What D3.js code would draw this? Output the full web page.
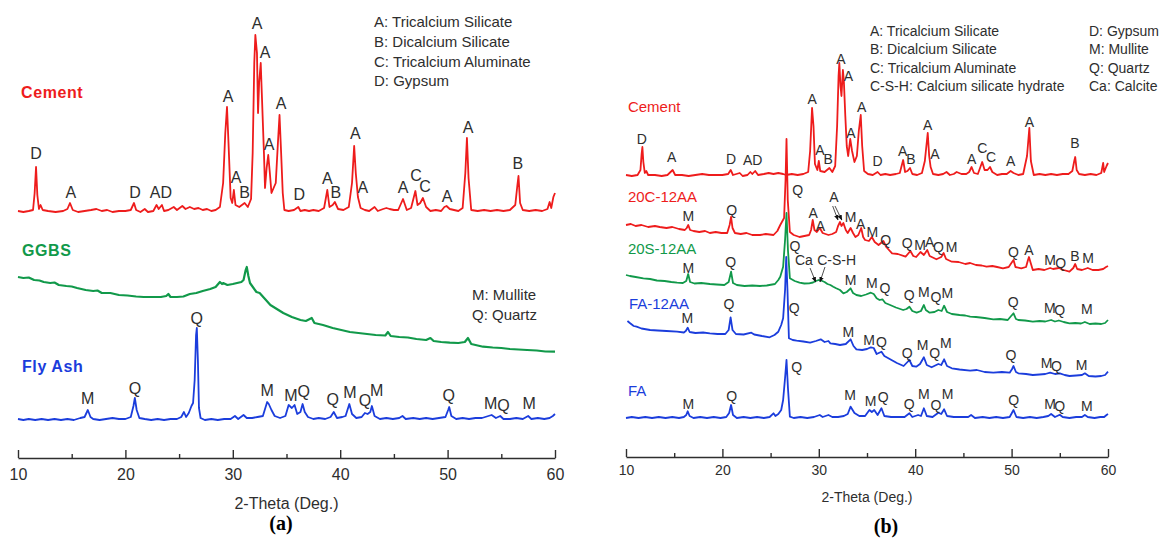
<!DOCTYPE html>
<html lang="en">
<head>
<meta charset="utf-8">
<title>XRD patterns</title>
<script src="https://cdn.jsdelivr.net/npm/d3@7"></script>
<style>
body { margin: 0; background: #fff; }
text { font-family: "Liberation Sans", Arial, sans-serif; }
</style>
</head>
<body>
<div id="chart"></div>
<script>
var W = 1169, H = 538;

// each trace: [2-theta, intensity above its own baseline] (a.u.)
var cementA = [[10.0,2],[10.5,1],[11.0,2],[11.4,3],[11.55,20],[11.68,46],[11.8,18],[11.95,4],[12.1,8],[12.3,3],[12.8,2],[13.5,1],[14.2,2],[14.6,4],[14.84,10],[15.1,3],[15.6,1],[16.2,2],[16.8,3],[17.3,4],[17.8,2],[18.3,3],[18.8,1],[19.4,2],[20.0,2],[20.5,3],[20.8,10],[21.0,3],[21.4,1],[21.8,4],[22.1,1],[22.6,2],[22.9,8],[23.1,4],[23.4,8],[23.6,2],[24.0,3],[24.5,6],[24.8,3],[25.3,7],[25.6,4],[26.0,6],[26.4,4],[26.8,5],[27.2,3],[27.6,4],[28.0,2],[28.4,3],[28.8,6],[29.1,30],[29.3,80],[29.46,106],[29.6,70],[29.8,15],[29.95,10],[30.1,23],[30.25,8],[30.6,6],[31.1,10],[31.4,6],[31.7,14],[31.85,60],[32.0,150],[32.1,178],[32.25,160],[32.35,100],[32.45,130],[32.6,150],[32.7,120],[32.8,90],[32.9,60],[33.0,25],[33.15,45],[33.3,58],[33.45,40],[33.6,20],[33.8,25],[34.0,30],[34.2,70],[34.35,98],[34.5,60],[34.65,20],[34.8,3],[35.2,2],[35.7,3],[36.1,6],[36.3,2],[36.7,3],[37.1,2],[37.5,3],[38.0,2],[38.5,5],[38.8,23],[39.0,6],[39.3,8],[39.5,11],[39.8,4],[40.3,3],[40.8,6],[41.1,30],[41.3,67],[41.45,40],[41.65,16],[41.9,5],[42.3,3],[42.7,2],[43.2,6],[43.5,2],[44.0,4],[44.3,5],[44.6,4],[45.0,3],[45.4,3],[45.85,14],[46.2,3],[46.6,5],[47.0,22],[47.2,8],[47.45,10],[47.7,15],[48.0,6],[48.4,2],[48.9,3],[49.4,2],[49.7,6],[49.9,7],[50.2,4],[50.6,3],[51.0,2],[51.4,5],[51.65,40],[51.8,75],[51.95,35],[52.2,3],[52.8,2],[53.4,3],[54.0,2],[54.6,3],[55.2,2],[55.8,3],[56.3,8],[56.5,28],[56.6,37],[56.75,10],[57.0,3],[57.6,2],[58.2,3],[58.8,2],[59.3,4],[59.5,11],[59.65,5],[59.85,16],[60.0,20]];

var ggbsA = [[10.0,75],[10.5,74],[11.0,74.5],[11.5,72],[12.0,71.5],[12.4,70],[13.0,69],[13.4,69.5],[13.8,67],[14.5,66],[15.0,65.5],[15.5,64],[16.3,62],[17.0,61],[17.4,61.5],[17.8,59],[18.6,59],[19.4,57],[20.2,56.5],[21.0,55.5],[21.7,55],[22.5,55],[23.3,55],[23.8,56],[24.0,58],[24.2,55],[24.8,55],[25.4,55.5],[26.0,58],[26.6,59],[27.2,61],[27.9,63],[28.4,65],[28.8,70],[29.0,68],[29.1,69],[29.5,67],[30.0,68],[30.4,69],[30.8,70],[31.0,72],[31.2,82],[31.3,85],[31.45,76],[31.6,69],[32.2,60],[32.5,59],[33.0,53],[33.5,47],[34.1,43],[34.7,39],[35.5,35],[36.3,32],[36.8,31],[37.35,34],[37.6,29],[38.4,27],[39.3,24],[40.1,22],[40.9,20],[41.7,19],[42.5,18],[43.3,17],[44.2,16.5],[44.45,20],[44.7,16],[45.5,15],[46.3,14.5],[47.1,13],[48.0,12],[48.4,14],[48.7,11],[49.4,10],[50.2,9.3],[51.0,9],[51.6,10],[51.9,14],[52.2,8],[53.3,5.3],[54.2,4.5],[55.0,4],[55.8,3],[56.6,2.5],[57.4,2],[58.3,1.5],[59.1,0.5],[60.0,0.3]];

var flyAshA = [[10.0,1],[10.5,0],[11.0,1],[11.6,0],[12.2,1],[12.8,0],[13.4,1],[14.0,0],[14.6,1],[15.2,0],[15.8,2],[16.2,3],[16.5,10],[16.75,3],[17.0,1],[17.6,0],[18.2,1],[18.8,2],[19.4,1],[20.0,1],[20.5,3],[20.75,14],[20.88,22],[21.05,10],[21.3,2],[21.8,1],[22.4,0],[23.0,1],[23.6,0],[24.2,1],[24.8,1],[25.2,3],[25.45,8],[25.65,3],[25.9,7],[26.15,14],[26.3,17],[26.45,40],[26.58,85],[26.65,92],[26.75,60],[26.85,12],[27.0,2],[27.4,0],[28.0,1],[28.6,0],[29.2,1],[29.8,1],[30.2,4],[30.5,1],[31.0,5],[31.3,2],[31.8,2],[32.3,3],[32.8,4],[33.2,18],[33.35,16],[33.6,10],[33.9,4],[34.4,2],[34.9,4],[35.2,15],[35.5,12],[35.75,15],[36.0,6],[36.3,8],[36.5,16],[36.7,8],[37.0,3],[37.5,1],[38.0,2],[38.6,1],[39.1,3],[39.4,8],[39.7,2],[40.2,3],[40.5,4],[40.85,16],[41.1,6],[41.5,2],[42.0,3],[42.3,7],[42.55,6],[42.8,8],[42.95,14],[43.2,4],[43.7,1],[44.3,2],[44.9,1],[45.5,2],[45.8,4],[46.1,1],[46.8,2],[47.4,1],[48.0,2],[48.6,1],[49.2,2],[49.8,3],[50.05,10],[50.15,13],[50.35,4],[50.8,1],[51.4,2],[52.0,1],[52.6,2],[53.2,2],[53.8,4],[54.1,5],[54.5,2],[54.9,4],[55.2,1],[55.8,1],[56.4,2],[57.0,1],[57.5,4],[57.8,1],[58.4,2],[59.0,1],[59.5,2],[59.8,4],[60.0,6]];

var cementB = [[10.0,1],[10.6,0],[11.2,1],[11.5,6],[11.62,22],[11.7,29],[11.8,14],[11.95,3],[12.1,5],[12.3,1],[13.0,1],[13.7,0],[14.3,1],[14.84,6],[15.1,1],[15.8,1],[16.5,0],[17.2,1],[17.9,2],[18.6,1],[19.3,1],[20.0,1],[20.6,2],[20.86,6],[21.1,1],[21.8,3],[22.1,0],[22.6,1],[22.9,4],[23.1,2],[23.4,5],[23.7,1],[24.3,2],[24.8,3],[25.3,2],[25.8,3],[26.3,2],[26.6,1],[27.2,2],[27.8,1],[28.4,2],[28.9,4],[29.1,25],[29.3,68],[29.45,50],[29.6,12],[29.85,6],[30.0,15],[30.15,5],[30.6,4],[31.1,8],[31.4,4],[31.7,10],[31.9,50],[32.05,100],[32.13,113],[32.25,90],[32.35,80],[32.5,106],[32.6,95],[32.75,60],[32.9,30],[33.05,20],[33.26,37],[33.45,25],[33.7,14],[33.95,20],[34.15,45],[34.35,61],[34.5,30],[34.7,5],[35.1,2],[35.6,1],[36.1,4],[36.4,1],[36.9,2],[37.4,1],[38.0,2],[38.4,3],[38.75,16],[38.95,4],[39.2,5],[39.46,8],[39.7,2],[40.2,1],[40.7,3],[41.0,15],[41.3,43],[41.45,20],[41.6,9],[41.85,2],[42.4,1],[42.9,2],[43.25,4],[43.6,1],[44.0,2],[44.3,4],[44.8,2],[45.3,2],[45.6,4],[45.85,9],[46.1,3],[46.5,2],[46.95,14],[47.2,6],[47.5,6],[47.76,9],[48.0,4],[48.5,1],[49.0,2],[49.5,2],[49.9,5],[50.2,3],[50.7,1],[51.2,2],[51.6,20],[51.84,48],[52.0,15],[52.3,1],[52.9,2],[53.5,1],[54.1,2],[54.7,1],[55.3,2],[55.9,2],[56.3,5],[56.5,15],[56.6,19],[56.75,6],[57.0,2],[57.6,1],[58.2,2],[58.8,1],[59.3,3],[59.5,13],[59.6,4],[59.85,10],[60.0,13]];

var c20B = [[10.0,47],[10.5,48],[11.0,46],[11.6,47],[12.3,45],[13.0,46],[13.5,45],[14.2,44],[14.8,45],[15.5,43],[16.1,42],[16.3,44],[16.46,47],[16.65,42],[17.0,41],[17.6,40],[18.2,41],[18.7,39],[19.3,40],[19.9,39],[20.5,39],[20.75,47],[20.9,55],[21.05,44],[21.3,39],[21.9,38],[22.5,39],[23.1,37],[23.9,37],[24.5,38],[25.3,37],[25.7,41],[26.0,47],[26.4,54],[26.55,92],[26.65,133],[26.78,72],[27.0,40],[27.4,37],[28.0,35],[28.5,36],[29.0,37],[29.2,42],[29.37,52],[29.55,42],[29.8,40],[30.1,44],[30.4,39],[31.0,37],[31.4,38],[31.8,40],[32.0,46],[32.2,50],[32.35,46],[32.55,49],[32.8,42],[33.0,39],[33.3,44],[33.55,39],[33.8,35],[34.1,37],[34.4,44],[34.6,35],[34.8,32],[35.2,31],[35.5,35],[35.8,30],[36.2,27],[36.7,31],[37.0,25],[37.6,18.7],[38.2,18],[39.0,15.3],[39.5,21],[39.8,16],[40.1,15],[40.55,20],[40.9,17],[41.25,22],[41.5,16],[42.2,12.7],[42.7,15],[42.95,19],[43.2,13],[43.8,10.3],[44.5,10],[45.2,8],[45.7,9],[46.3,7],[46.9,6.5],[47.4,5.3],[48.0,6],[48.5,5],[49.1,3.7],[49.7,5],[50.05,10],[50.2,12],[50.4,5],[51.0,3.7],[51.5,5],[51.7,12],[51.8,15],[51.95,10],[52.2,2],[52.8,3],[53.4,2],[54.0,4],[54.3,3],[54.9,4],[55.4,2],[56.0,0.3],[56.4,4],[56.6,8],[56.8,3],[57.3,2],[57.9,4],[58.4,2],[59.0,2],[59.5,3],[59.8,5],[60.0,6]];

var s20B = [[10.0,50],[10.4,49],[11.0,48],[11.8,46.7],[12.5,46],[13.2,44.5],[14.0,44],[14.7,43],[15.3,42.3],[15.9,42],[16.25,44],[16.45,51],[16.65,43],[17.1,41.5],[17.8,42],[18.7,41],[19.4,40.5],[20.2,40],[20.65,43],[20.9,53.3],[21.1,42],[21.5,40],[22.3,39],[23.1,39.5],[23.9,39],[24.6,39.5],[25.45,41],[25.8,45],[26.0,48.3],[26.3,58.3],[26.5,85],[26.65,112],[26.8,75],[27.0,46.7],[27.5,44],[28.0,42.3],[28.5,41.5],[29.0,41.7],[29.4,42.5],[29.7,44],[30.0,45],[30.3,44.3],[30.6,43],[30.9,41],[31.2,40],[31.5,38.3],[31.8,36.7],[32.2,35],[32.55,31.7],[32.9,33],[33.3,36.7],[33.55,32],[33.9,30],[34.4,29],[34.9,30.5],[35.4,32.3],[35.7,31],[36.0,26.7],[36.3,25],[36.6,25.7],[36.9,22],[37.4,20],[38.0,17.5],[38.75,15],[39.1,16],[39.4,18.3],[39.7,14],[40.15,12.3],[40.6,14],[40.9,20],[41.1,15],[41.5,12.3],[42.0,13],[42.4,15],[42.75,14],[43.0,19.3],[43.3,13],[43.8,11],[44.6,10],[45.2,9.5],[45.7,8.3],[46.3,8],[47.2,7],[48.1,5.7],[48.8,6],[49.6,5],[49.95,9],[50.2,11.7],[50.45,6],[50.7,5],[51.4,4.5],[52.2,3.3],[52.9,4],[53.5,3.5],[54.1,5],[54.5,3.5],[54.9,4.5],[55.4,3],[56.0,1.7],[56.6,2],[57.2,1.5],[57.6,3],[58.1,1],[58.7,1.5],[59.3,1],[59.7,2],[60.0,5]];

var fa12B = [[10.15,57],[10.4,55],[10.8,52],[11.1,51.3],[11.6,49.5],[12.5,48],[13.3,47.5],[14.2,47],[15.3,46.3],[16.0,45.5],[16.2,47],[16.4,50.3],[16.6,46],[17.2,45],[18.0,45.5],[18.7,44.7],[19.5,44],[20.3,44],[20.65,48],[20.85,60.7],[21.05,48],[21.4,44],[22.2,43.5],[23.0,45.3],[23.3,43.5],[24.1,42],[24.9,40.7],[25.4,43],[25.8,46.3],[26.1,53],[26.3,59.7],[26.5,88],[26.62,121],[26.75,88],[26.9,39.7],[27.3,38],[27.7,37.3],[28.4,36.5],[29.1,35.3],[29.7,37],[30.2,38.7],[30.6,36],[31.0,37],[31.2,34.7],[31.7,34],[32.2,33],[32.8,34],[33.3,38.7],[33.6,32],[33.9,28.7],[34.5,28],[35.0,29],[35.4,30.7],[35.7,30],[36.0,24],[36.5,26.3],[36.8,22],[37.4,18.7],[38.1,15],[38.8,12],[39.4,18],[39.7,12],[40.1,11.3],[40.5,14],[40.9,20.7],[41.2,13],[41.7,10.7],[42.4,14],[42.7,13],[43.0,18.7],[43.3,12],[43.8,9.7],[44.6,8.5],[45.7,7.3],[46.4,8],[47.2,6],[48.1,5.3],[49.0,6],[49.8,5.3],[50.05,9],[50.2,12],[50.45,6],[50.7,4.7],[51.5,4],[52.2,3],[52.9,3.5],[53.5,4],[54.0,5.3],[54.5,4],[55.0,4.7],[55.5,3],[56.0,2],[56.7,2.5],[57.3,3],[57.6,4.7],[58.0,2],[58.7,1.5],[59.3,2],[59.7,3],[60.0,6.3]];

var faB = [[10.0,0],[10.6,1],[11.3,0],[12.0,1],[12.7,0],[13.4,1],[14.1,0],[14.8,1],[15.5,0],[16.0,1],[16.25,3],[16.4,6.7],[16.6,2],[17.0,0],[17.7,1],[18.4,0],[19.1,1],[19.8,0],[20.4,1],[20.7,5],[20.9,13],[21.1,3],[21.5,0],[22.2,1],[22.9,0],[23.6,1],[24.3,0],[24.9,1],[25.3,4.7],[25.5,2],[25.8,4],[26.1,8],[26.3,18],[26.5,40],[26.65,58],[26.8,30],[27.0,1.3],[27.4,0],[28.1,1],[28.8,0],[29.5,1],[30.1,3],[30.4,1],[31.0,3],[31.4,1],[32.0,1],[32.6,2],[33.0,4],[33.3,11.3],[33.7,5],[34.2,2],[34.8,2],[35.25,8],[35.5,6],[35.75,8],[36.1,3],[36.5,9.7],[36.8,2],[37.5,1],[38.2,1],[38.9,1],[39.4,4.7],[39.7,1],[40.3,3],[40.6,2],[40.9,9.7],[41.2,2],[41.8,1],[42.4,5.3],[42.7,4],[43.0,8.7],[43.3,2],[44.0,1],[44.8,1],[45.5,1],[45.8,3],[46.2,0],[47.0,1],[47.7,0],[48.4,1],[49.1,0],[49.8,1],[50.2,8],[50.5,1],[51.2,0],[51.9,1],[52.6,0],[53.3,1],[53.8,2],[54.1,4],[54.5,1],[55.0,3.3],[55.3,1],[56.0,0],[56.7,1],[57.3,1],[57.6,3],[57.9,1],[58.6,0],[59.2,1],[59.6,1],[59.85,3],[60.0,4]];

// peak letters: [text, 2-theta, intensity above the trace baseline]
var cementALabels = [["D",11.68,60],["A",14.93,21],["D",20.9,21],["AD",23.3,21],["A",29.55,117],["A",30.3,36],["B",31.1,21],["A",32.25,190],["A",33.0,161],["A",33.37,69],["A",34.5,110],["D",36.2,19],["A",38.8,35],["B",39.6,21],["A",41.4,80],["A",42.1,26],["A",45.85,26],["C",47.06,38],["C",47.9,27],["A",49.95,17],["A",51.9,86],["B",56.55,50]];
var flyAshALabels = [["M",16.49,22],["Q",20.9,32],["Q",26.64,102],["M",33.2,30],["M",35.4,25],["Q",36.6,29],["Q",39.3,21],["M",40.9,28],["Q",42.3,20],["M",43.4,30],["Q",50.1,25],["M",54.0,17],["Q",55.2,15],["M",57.6,17]];

var cementBLabels = [["D",11.63,37],["A",14.74,19],["D",20.9,17],["AD",23.14,16],["A",29.3,77],["A",30.12,26],["B",30.98,17],["A",32.3,117],["A",33.08,100],["A",33.34,43],["A",34.45,69],["D",36.1,15],["A",38.7,25],["B",39.56,17],["A",41.3,51],["A",42.05,22],["A",45.86,17],["C",46.96,28],["C",47.86,19],["A",49.9,15],["A",51.84,54],["B",56.58,33]];
var c20BLabels = [["M",16.46,56],["Q",20.96,62],["Q",27.8,82],["A",29.42,59],["A",30.18,46],["A",31.58,75],["M",33.31,55],["A",34.35,48],["M",35.55,40],["Q",36.94,32],["Q",39.18,29],["M",40.5,27],["A",41.5,30],["Q",42.4,25],["M",43.77,25],["Q",50.2,20],["A",51.8,22],["M",53.98,12],["Q",55.1,9],["B",56.58,16],["M",57.93,14]];
var s20BLabels = [["M",16.46,57],["Q",20.86,63],["Q",27.53,79],["Ca",28.45,65],["C-S-H",31.85,65],["M",33.31,45],["M",35.49,42],["Q",36.87,37],["Q",39.39,30],["M",40.9,33],["Q",42.15,28],["M",43.33,32],["Q",50.16,23],["M",53.96,17],["Q",55.0,15],["M",57.8,16]];
var fa12BLabels = [["M",16.36,60],["Q",20.68,74],["Q",27.46,70],["M",33.06,46],["M",35.21,38],["Q",36.5,36],["Q",39.16,25],["M",40.76,33],["Q",42.03,25],["M",43.17,35],["Q",49.92,23],["M",53.62,15],["Q",54.66,12],["M",57.26,13]];
var faBLabels = [["M",16.46,14],["Q",20.96,22],["Q",27.7,51],["M",33.24,23],["M",35.38,17],["Q",36.67,21],["Q",39.37,14],["M",40.89,24],["Q",42.14,13],["M",43.35,24],["Q",50.23,18],["M",53.98,14],["Q",55.0,12],["M",57.8,12]];

// arrows: [from 2-theta, from intensity, to 2-theta, to intensity]
var c20BArrows = [[31.44,66,31.99,52],[31.68,66,32.39,52]];
var s20BArrows = [[29.09,57,29.68,43],[30.64,58,30.12,43]];

var legendA1 = ["A: Tricalcium Silicate","B: Dicalcium Silicate","C: Tricalcium Aluminate","D: Gypsum"];
var legendA2 = ["M: Mullite","Q: Quartz"];
var legendB1 = ["A: Tricalcium Silicate","B: Dicalcium Silicate","C: Tricalcium Aluminate","C-S-H: Calcium silicate hydrate"];
var legendB2 = ["D: Gypsum","M: Mullite","Q: Quartz","Ca: Calcite"];

var majorTicks = [10,20,30,40,50,60];
var minorTicks = [15,25,35,45,55];

var red = "#ee1c1c", green = "#11994a", blue = "#1b3ddc", ink = "#2e2e2e";

var svg = d3.select("#chart").append("svg")
	.attr("width", W)
	.attr("height", H);

svg.append("defs").append("marker")
	.attr("id", "head")
	.attr("viewBox", "0 0 10 10")
	.attr("refX", 9).attr("refY", 5)
	.attr("markerWidth", 7).attr("markerHeight", 7)
	.attr("orient", "auto")
	.append("path")
	.attr("d", "M0,1L10,5L0,9Z")
	.attr("fill", "#111");

function drawPanel(p) {
	var g = svg.append("g");
	var x = d3.scaleLinear().domain([10, 60]).range([p.x0, p.x1]);
	var y = d3.scaleLinear().domain([0, p.axisY]).range([p.axisY, 0]);

	// axis: long ticks every 10, short every 5, both pointing up
	g.append("g")
		.attr("transform", "translate(0," + p.axisY + ")")
		.call(d3.axisBottom(x).tickValues(majorTicks).tickFormat(d3.format("d"))
			.tickSizeInner(-8).tickSizeOuter(0).tickPadding(p.tickPad))
		.call(function(a) {
			a.select(".domain").attr("stroke", ink).attr("stroke-width", 1.4);
			a.selectAll(".tick line").attr("stroke", ink).attr("stroke-width", 1.4);
			a.selectAll(".tick text").attr("fill", ink)
				.style("font-size", p.tickFont + "px")
				.style("font-family", "'Liberation Sans', Arial, sans-serif");
		});
	g.append("g")
		.attr("transform", "translate(0," + p.axisY + ")")
		.call(d3.axisBottom(x).tickValues(minorTicks).tickFormat("")
			.tickSizeInner(-4).tickSizeOuter(0))
		.call(function(a) {
			a.select(".domain").remove();
			a.selectAll(".tick line").attr("stroke", ink).attr("stroke-width", 1.4);
		});

	g.append("text")
		.attr("x", (p.x0 + p.x1) / 2)
		.attr("y", p.titleY)
		.attr("text-anchor", "middle")
		.attr("dy", "0.35em")
		.attr("fill", ink)
		.style("font-size", p.tickFont + "px")
		.text("2-Theta (Deg.)");

	g.append("text")
		.attr("x", p.tagX)
		.attr("y", p.tagY)
		.attr("text-anchor", "middle")
		.attr("dy", "0.35em")
		.style("font-family", "'Liberation Serif', 'Times New Roman', serif")
		.style("font-weight", "bold")
		.style("font-size", "20px")
		.text(p.tag);

	p.traces.forEach(function(t) {
		var line = d3.line()
			.x(function(d) { return x(d[0]); })
			.y(function(d) { return y(d[1] + t.offset); });

		g.append("path")
			.datum(t.data)
			.attr("d", line)
			.attr("fill", "none")
			.attr("stroke", t.color)
			.attr("stroke-width", t.width || 1.8)
			.attr("stroke-linejoin", "round");

		g.selectAll(null)
			.data(t.labels || [])
			.enter()
			.append("text")
			.attr("x", function(d) { return x(d[1]); })
			.attr("y", function(d) { return y(d[2] + t.offset); })
			.attr("text-anchor", "middle")
			.attr("dy", "0.35em")
			.attr("fill", ink)
			.style("font-size", p.peakFont + "px")
			.text(function(d) { return d[0]; });

		g.selectAll(null)
			.data(t.arrows || [])
			.enter()
			.append("line")
			.attr("x1", function(d) { return x(d[0]); })
			.attr("y1", function(d) { return y(d[1] + t.offset); })
			.attr("x2", function(d) { return x(d[2]); })
			.attr("y2", function(d) { return y(d[3] + t.offset); })
			.attr("stroke", "#222")
			.attr("stroke-width", 0.8)
			.attr("marker-end", "url(#head)");

		g.append("text")
			.attr("x", x(t.name[1]))
			.attr("y", y(t.name[2] + t.offset))
			.attr("dy", "0.35em")
			.attr("fill", t.color)
			.style("font-size", p.nameFont + "px")
			.style("font-weight", p.nameWeight)
			.style("letter-spacing", p.nameSpacing + "px")
			.text(t.name[0]);
	});

	p.legends.forEach(function(l) {
		g.selectAll(null)
			.data(l.items)
			.enter()
			.append("text")
			.attr("x", l.x)
			.attr("y", function(d, i) { return l.y + i * l.step; })
			.attr("dy", "0.35em")
			.attr("fill", ink)
			.style("font-size", l.size + "px")
			.text(function(d) { return d; });
	});
}

drawPanel({
	x0: 18, x1: 555, axisY: 458, tickPad: 11, tickFont: 16, titleY: 503,
	tag: "(a)", tagX: 281, tagY: 523, peakFont: 16,
	nameFont: 16, nameWeight: "bold", nameSpacing: 0.6,
	traces: [
		{data: cementA, offset: 245, color: red, labels: cementALabels, name: ["Cement", 10.28, 121]},
		{data: ggbsA, offset: 106, color: green, width: 2.2, name: ["GGBS", 10.37, 102]},
		{data: flyAshA, offset: 38, color: blue, labels: flyAshALabels, name: ["Fly Ash", 10.37, 54]}
	],
	legends: [
		{items: legendA1, x: 374, y: 22, step: 19.7, size: 15},
		{items: legendA2, x: 472, y: 295, step: 20, size: 15}
	]
});

drawPanel({
	x0: 626, x1: 1108, axisY: 457, tickPad: 8, tickFont: 14, titleY: 497,
	tag: "(b)", tagX: 886, tagY: 526, peakFont: 14,
	nameFont: 15, nameWeight: "normal", nameSpacing: 0,
	traces: [
		{data: cementB, offset: 281, color: red, labels: cementBLabels, name: ["Cement", 10.2, 69]},
		{data: c20B, offset: 185, color: red, labels: c20BLabels, arrows: c20BArrows, name: ["20C-12AA", 10.2, 75]},
		{data: s20B, offset: 132, color: green, labels: s20BLabels, arrows: s20BArrows, name: ["20S-12AA", 10.2, 76]},
		{data: fa12B, offset: 79, color: blue, labels: fa12BLabels, name: ["FA-12AA", 10.3, 74]},
		{data: faB, offset: 39, color: blue, labels: faBLabels, name: ["FA", 10.2, 27]}
	],
	legends: [
		{items: legendB1, x: 870, y: 31, step: 18.3, size: 14},
		{items: legendB2, x: 1089, y: 31, step: 18.3, size: 14}
	]
});
</script>
</body>
</html>
